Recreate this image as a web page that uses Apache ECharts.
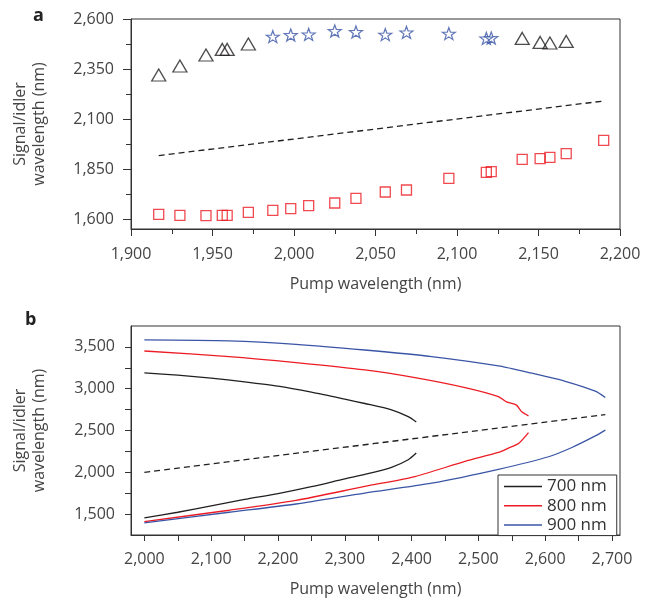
<!DOCTYPE html>
<html>
<head>
<meta charset="utf-8">
<script src="https://cdn.jsdelivr.net/npm/echarts@6/dist/echarts.min.js"></script>
<style>
  html, body { margin: 0; padding: 0; background: #fff; }
  #chart { width: 648px; height: 600px; }
</style>
</head>
<body>
<div id="chart"></div>
<script>
// ---- panel a: measured signal / idler wavelengths ----
const triPump = [1917, 1930, 1946, 1956, 1959, 1972, 2140, 2151, 2157, 2167];
const triIdler = [2320, 2365, 2420, 2448, 2448, 2475, 2503, 2483, 2480, 2488];
const starPump = [1987, 1998, 2009, 2025, 2038, 2056, 2069, 2095, 2118, 2121];
const starIdler = [2512, 2520, 2523, 2540, 2535, 2522, 2533, 2527, 2503, 2505];
const sqPump = [1917, 1930, 1946, 1956, 1959, 1972, 1987, 1998, 2009, 2025, 2038,
  2056, 2069, 2095, 2118, 2121, 2140, 2151, 2157, 2167, 2190];
const sqSignal = [1623, 1618, 1617, 1618, 1618, 1633, 1643, 1652, 1667, 1680, 1703,
  1735, 1745, 1803, 1833, 1837, 1898, 1902, 1908, 1927, 1993];
const degenA = [1917, 2190];

// ticks panel a
const aXTicks = [1900, 1950, 2000, 2050, 2100, 2150, 2200];
const aXMinor = [1925, 1975, 2025, 2075, 2125, 2175];
const aYTicks = [1600, 1850, 2100, 2350, 2600];
const aYMinor = [1725, 1975, 2225, 2475];

// ---- panel b: calculated curves ----
const p700Up = [2000, 2050, 2100, 2150, 2200, 2250, 2300, 2330, 2370, 2395, 2407];
const s700Up = [3190, 3162, 3127, 3082, 3030, 2958, 2875, 2823, 2747, 2665, 2602];
const p700Lo = [2000, 2050, 2100, 2150, 2200, 2250, 2300, 2330, 2370, 2395, 2407];
const s700Lo = [1455, 1522, 1598, 1675, 1745, 1828, 1922, 1975, 2060, 2150, 2230];

const p800Up = [2000, 2127, 2227, 2330, 2405, 2480, 2530, 2542, 2557, 2565, 2575];
const s800Up = [3451, 3384, 3312, 3225, 3133, 3014, 2906, 2843, 2803, 2723, 2675];
const p800Lo = [2000, 2127, 2227, 2330, 2405, 2480, 2530, 2545, 2560, 2575];
const s800Lo = [1411, 1546, 1664, 1831, 1949, 2131, 2237, 2290, 2344, 2475];

const p900Up = [2000, 2127, 2227, 2330, 2430, 2530, 2580, 2630, 2675, 2690];
const s900Up = [3583, 3571, 3531, 3463, 3384, 3272, 3185, 3089, 2970, 2894];
const p900Lo = [2000, 2127, 2227, 2330, 2430, 2530, 2605, 2640, 2675, 2690];
const s900Lo = [1396, 1522, 1621, 1752, 1870, 2036, 2186, 2297, 2435, 2505];
const degenB = [2000, 2690];

const bXTicks = [2000, 2100, 2200, 2300, 2400, 2500, 2600, 2700];
const bXMinor = [2050, 2150, 2250, 2350, 2450, 2550, 2650];
const bYTicks = [1500, 2000, 2500, 3000, 3500];
const bYMinor = [1750, 2250, 2750, 3250];

const FONT = '"Open Sans", sans-serif';
const AX = '#333';
const TXT = '#444';
const BLACK = '#231f20';
const RED = '#ec1c24';
const BLUE = '#3a55a6';
const STAR = 'path://M0,-10L2.35,-3.24L9.51,-3.09L3.8,1.24L5.88,8.09L0,4L-5.88,8.09L-3.8,1.24L-9.51,-3.09L-2.35,-3.24Z';

const zip = (xs, ys) => xs.map((x, i) => [x, ys[i]]);
const fmt = v => v.toLocaleString('en-US');

// main axis: line, major ticks, labels, name
function mainAxis(extra, labels, tickLen, margin) {
  return Object.assign({
    type: 'value',
    axisLine: { show: true, lineStyle: { color: AX, width: 1 } },
    axisTick: { show: true, length: tickLen, customValues: labels, lineStyle: { color: AX } },
    axisLabel: { customValues: labels, formatter: fmt, color: TXT, fontFamily: FONT, fontSize: 16, margin: margin },
    splitLine: { show: false },
    nameLocation: 'middle',
    nameTextStyle: { color: TXT, fontFamily: FONT, fontSize: 16, lineHeight: 19 }
  }, extra);
}
// overlay axis that only draws the minor ticks
function minorAxis(extra, ticks, tickLen) {
  return Object.assign({
    type: 'value',
    offset: 0,
    axisLine: { show: false },
    axisTick: { show: true, length: tickLen, customValues: ticks, lineStyle: { color: AX } },
    axisLabel: { show: false },
    splitLine: { show: false }
  }, extra);
}

const chart = echarts.init(document.getElementById('chart'));

const lineSeries = (name, xs, ys, color, dashed) => ({
  name: name,
  type: 'line',
  xAxisIndex: 1,
  yAxisIndex: 1,
  data: zip(xs, ys),
  showSymbol: false,
  symbol: 'none',
  smooth: 0.25,
  silent: true,
  lineStyle: { color: color, width: 1.3, type: dashed ? [6, 4] : 'solid' },
  itemStyle: { color: color }
});

chart.setOption({
  animation: false,
  backgroundColor: '#fff',
  grid: [
    { left: 131, right: 28, top: 19, height: 210, show: true, borderColor: AX, borderWidth: 1 },
    { left: 131, right: 28, top: 326, height: 211, show: true, borderColor: AX, borderWidth: 1 }
  ],
  xAxis: [
    mainAxis({ gridIndex: 0, position: 'bottom', min: 1900, max: 2200, name: 'Pump wavelength (nm)', nameGap: 46 }, aXTicks, 7, 17),
    mainAxis({ gridIndex: 1, position: 'bottom', min: 1980, max: 2712, name: 'Pump wavelength (nm)', nameGap: 45 }, bXTicks, 6, 16),
    minorAxis({ gridIndex: 0, position: 'bottom', min: 1900, max: 2200 }, aXMinor, 5),
    minorAxis({ gridIndex: 1, position: 'bottom', min: 1980, max: 2712 }, bXMinor, 6)
  ],
  yAxis: [
    mainAxis({ gridIndex: 0, position: 'left', min: 1550, max: 2600, name: 'Signal/idler\nwavelength (nm)', nameGap: 82 }, aYTicks, 8, 17),
    mainAxis({ gridIndex: 1, position: 'left', min: 1250, max: 3750, name: 'Signal/idler\nwavelength (nm)', nameGap: 82 }, bYTicks, 6, 16),
    minorAxis({ gridIndex: 0, position: 'left', min: 1550, max: 2600 }, aYMinor, 5),
    minorAxis({ gridIndex: 1, position: 'left', min: 1250, max: 3750 }, bYMinor, 6)
  ],
  legend: {
    data: ['700 nm', '800 nm', '900 nm'],
    orient: 'vertical',
    left: 498,
    top: 475,
    padding: [3, 10, 2, 6],
    itemGap: 2.3,
    itemWidth: 38,
    itemHeight: 1.5,
    icon: 'rect',
    borderColor: AX,
    borderWidth: 1,
    backgroundColor: '#fff',
    textStyle: { color: '#333', fontFamily: FONT, fontSize: 17, lineHeight: 17 }
  },
  graphic: [
    { type: 'text', left: 33, top: 7, style: { text: 'a', font: 'bold 18px ' + FONT, fill: '#222' } },
    { type: 'text', left: 25, top: 311, style: { text: 'b', font: 'bold 18px ' + FONT, fill: '#222' } }
  ],
  series: [
    {
      type: 'line', xAxisIndex: 0, yAxisIndex: 0, silent: true, showSymbol: false, symbol: 'none',
      data: zip(degenA, degenA), lineStyle: { color: BLACK, width: 1.3, type: [6, 4] }
    },
    {
      type: 'scatter', xAxisIndex: 0, yAxisIndex: 0, silent: true,
      data: zip(triPump, triIdler), symbol: 'triangle', symbolSize: [14, 12],
      itemStyle: { color: 'rgba(255,255,255,0)', borderColor: BLACK, borderWidth: 1.3 }
    },
    {
      type: 'scatter', xAxisIndex: 0, yAxisIndex: 0, silent: true,
      data: zip(starPump, starIdler), symbol: STAR, symbolSize: [13, 12],
      itemStyle: { color: 'rgba(255,255,255,0)', borderColor: BLUE, borderWidth: 1.2 }
    },
    {
      type: 'scatter', xAxisIndex: 0, yAxisIndex: 0, silent: true,
      data: zip(sqPump, sqSignal), symbol: 'rect', symbolSize: 10,
      itemStyle: { color: 'rgba(255,255,255,0)', borderColor: RED, borderWidth: 1.3 }
    },
    lineSeries('degB', degenB, degenB, BLACK, true),
    lineSeries('700 nm', p700Up, s700Up, BLACK),
    lineSeries('700 nm', p700Lo, s700Lo, BLACK),
    lineSeries('800 nm', p800Up, s800Up, RED),
    lineSeries('800 nm', p800Lo, s800Lo, RED),
    lineSeries('900 nm', p900Up, s900Up, BLUE),
    lineSeries('900 nm', p900Lo, s900Lo, BLUE)
  ]
});
</script>
</body>
</html>
